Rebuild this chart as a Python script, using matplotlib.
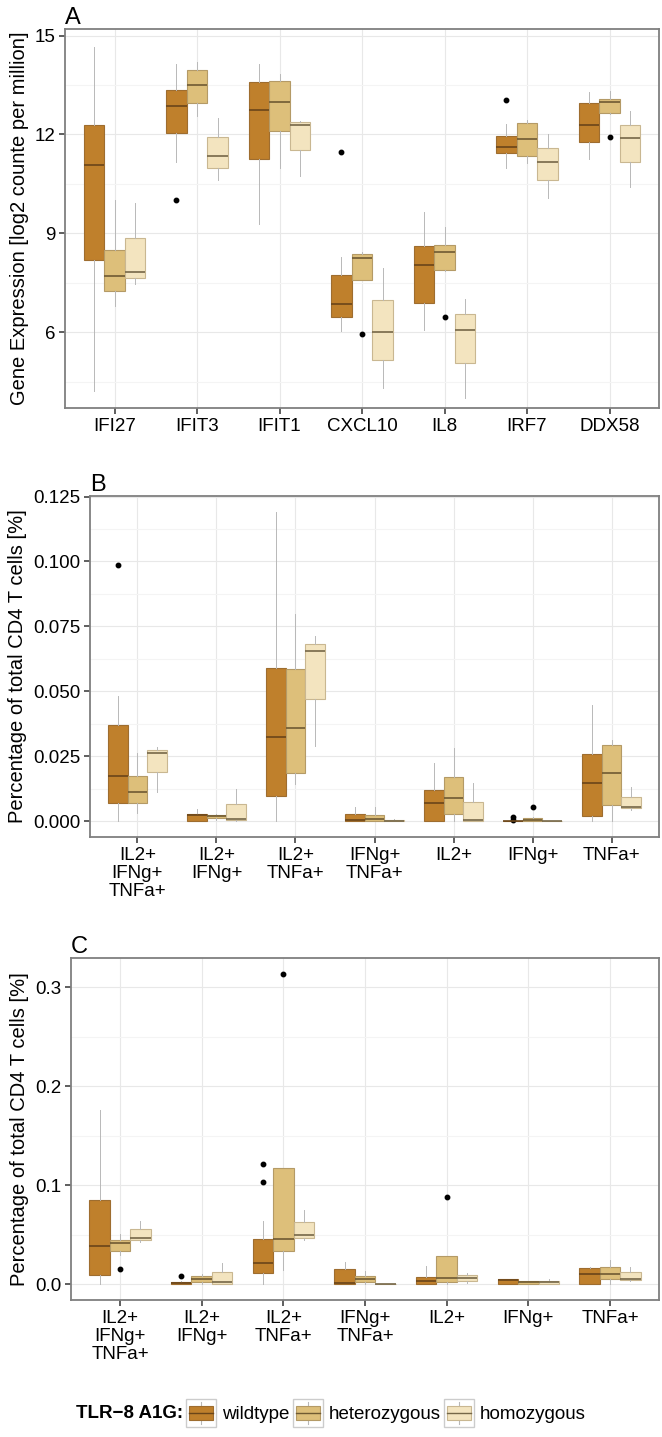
import numpy as np
import matplotlib
matplotlib.use("Agg")
import matplotlib.pyplot as plt
from matplotlib.patches import Rectangle
from matplotlib.lines import Line2D
from matplotlib.legend_handler import HandlerBase
from matplotlib.ticker import MultipleLocator, FormatStrFormatter

plt.rcParams["font.family"] = ["Liberation Sans", "DejaVu Sans"]

GENOTYPES = ["wildtype", "heterozygous", "homozygous"]
FILL = ["#BF802C", "#DDBF7A", "#F3E4BF"]
EDGE = ["#9E6D2F", "#B49A66", "#C9B791"]
MEDIAN = ["#6A4519", "#6F5A32", "#756748"]
WHISKER = "#B8B8B8"

# ---- panel A: gene expression, rows are [whislo, q1, median, q3, whishi]
GENES = ["IFI27", "IFIT3", "IFIT1", "CXCL10", "IL8", "IRF7", "DDX58"]
A_WT = [[4.22, 8.18, 11.06, 12.29, 14.66],
        [11.16, 12.05, 12.86, 13.34, 14.13],
        [9.29, 11.27, 12.74, 13.59, 14.15],
        [6.03, 6.46, 6.85, 7.73, 8.27],
        [6.06, 6.88, 8.03, 8.62, 9.65],
        [10.99, 11.45, 11.63, 11.96, 12.31],
        [11.27, 11.78, 12.28, 12.95, 13.29]]
A_HET = [[6.78, 7.26, 7.70, 8.50, 10.01],
         [12.57, 12.96, 13.49, 13.95, 14.19],
         [10.99, 12.10, 13.00, 13.61, 13.82],
         [7.58, 7.58, 8.24, 8.37, 8.42],
         [7.85, 7.90, 8.43, 8.64, 9.19],
         [11.14, 11.36, 11.87, 12.34, 12.45],
         [12.62, 12.66, 12.98, 13.09, 13.31]]
A_HOM = [[7.47, 7.63, 7.82, 8.86, 9.91],
         [10.62, 10.99, 11.36, 11.93, 12.49],
         [10.75, 11.53, 12.30, 12.37, 12.42],
         [4.30, 5.16, 6.02, 6.98, 7.94],
         [4.01, 5.06, 6.08, 6.54, 7.02],
         [10.08, 10.62, 11.16, 11.59, 12.02],
         [10.42, 11.16, 11.89, 12.29, 12.71]]
A_WT_OUT = [[], [10.02], [], [11.48], [], [13.06], []]
A_HET_OUT = [[], [], [], [5.96], [6.45], [], [11.91]]
A_HOM_OUT = [[], [], [], [], [], [], []]

# ---- panel B: cytokine producing CD4 T cells
CELLS = ["IL2+\nIFNg+\nTNFa+", "IL2+\nIFNg+", "IL2+\nTNFa+", "IFNg+\nTNFa+",
         "IL2+", "IFNg+", "TNFa+"]
B_WT = [[0.0, 0.0071, 0.0173, 0.0371, 0.0484],
        [0.0, 0.0, 0.0024, 0.0030, 0.0049],
        [0.0, 0.0096, 0.0324, 0.0592, 0.1192],
        [0.0, 0.0, 0.0006, 0.0027, 0.0055],
        [0.0, 0.0, 0.0069, 0.0122, 0.0225],
        [0.0, 0.0, 0.0001, 0.0002, 0.0003],
        [0.0, 0.0022, 0.0146, 0.0259, 0.0448]]
B_HET = [[0.0032, 0.0069, 0.0112, 0.0173, 0.0264],
         [0.0005, 0.0012, 0.0020, 0.0025, 0.0030],
         [0.0142, 0.0186, 0.0359, 0.0585, 0.0798],
         [0.0, 0.0001, 0.0010, 0.0023, 0.0057],
         [0.0, 0.0029, 0.0091, 0.0170, 0.0283],
         [0.0, 0.0, 0.0006, 0.0015, 0.0017],
         [0.0, 0.0065, 0.0187, 0.0295, 0.0314]]
B_HOM = [[0.0113, 0.0189, 0.0264, 0.0276, 0.0286],
         [0.0, 0.0004, 0.0009, 0.0066, 0.0123],
         [0.0290, 0.0471, 0.0656, 0.0683, 0.0712],
         [0.0, 0.0, 0.0003, 0.0006, 0.0010],
         [0.0, 0.0, 0.0005, 0.0076, 0.0146],
         [0.0, 0.0, 0.0001, 0.0002, 0.0003],
         [0.0042, 0.0051, 0.0055, 0.0094, 0.0132]]
B_WT_OUT = [[0.0985], [], [], [], [], [0.0018, 0.0006], []]
B_HET_OUT = [[], [], [], [], [], [0.0057], []]
B_HOM_OUT = [[], [], [], [], [], [], []]

# ---- panel C
C_WT = [[0.0, 0.0099, 0.0392, 0.0855, 0.1763],
        [0.0, 0.0, 0.0010, 0.0027, 0.0030],
        [0.0, 0.0116, 0.0217, 0.0462, 0.0640],
        [0.0, 0.0, 0.0010, 0.0152, 0.0222],
        [0.0, 0.0, 0.0034, 0.0077, 0.0189],
        [0.0, 0.0, 0.0044, 0.0051, 0.0051],
        [0.0, 0.0007, 0.0101, 0.0162, 0.0172]]
C_HET = [[0.0300, 0.0338, 0.0418, 0.0452, 0.0513],
         [0.0, 0.0020, 0.0054, 0.0084, 0.0110],
         [0.0143, 0.0341, 0.0462, 0.1175, 0.1180],
         [0.0, 0.0027, 0.0051, 0.0084, 0.0138],
         [0.0, 0.0027, 0.0061, 0.0286, 0.0290],
         [0.0, 0.0007, 0.0027, 0.0030, 0.0036],
         [0.0, 0.0051, 0.0104, 0.0172, 0.0246]]
C_HOM = [[0.0430, 0.0449, 0.0472, 0.0560, 0.0640],
         [0.0, 0.0007, 0.0020, 0.0121, 0.0212],
         [0.0445, 0.0469, 0.0503, 0.0634, 0.0755],
         [0.0, 0.0, 0.0002, 0.0004, 0.0008],
         [0.0010, 0.0034, 0.0061, 0.0091, 0.0118],
         [0.0, 0.0007, 0.0020, 0.0030, 0.0060],
         [0.0034, 0.0044, 0.0057, 0.0121, 0.0178]]
C_WT_OUT = [[], [0.0090], [0.1037, 0.1215], [], [], [], []]
C_HET_OUT = [[0.0160], [], [0.314], [], [0.0882], [], []]
C_HOM_OUT = [[], [], [], [], [], [], []]


class BoxKey:
    def __init__(self, i):
        self.i = i


class BoxKeyHandler(HandlerBase):
    def create_artists(self, legend, handle, xd, yd, w, h, fontsize, trans):
        i = handle.i
        x0, y0 = -xd, -yd
        frame = Rectangle((x0, y0), w, h, facecolor="white", edgecolor="#CCCCCC",
                          lw=1.0, transform=trans)
        whisk = Line2D([x0 + w / 2] * 2, [y0 + 0.1 * h, y0 + 0.9 * h],
                       color=WHISKER, lw=0.8, transform=trans)
        box = Rectangle((x0 + 0.1 * w, y0 + 0.25 * h), 0.8 * w, 0.5 * h,
                        facecolor=FILL[i], edgecolor=EDGE[i], lw=0.8, transform=trans)
        med = Line2D([x0 + 0.1 * w, x0 + 0.9 * w], [y0 + h / 2] * 2,
                     color=MEDIAN[i], lw=1.0, transform=trans)
        return [frame, whisk, box, med]


def draw_panel(ax, labels, groups, outliers, ylim, yticks, fmt, minor, ylabel, letter):
    n = len(labels)
    for k in range(3):
        stats = [dict(whislo=s[0], q1=s[1], med=s[2], q3=s[3], whishi=s[4], fliers=o)
                 for s, o in zip(groups[k], outliers[k])]
        pos = np.arange(1, n + 1) + (k - 1) * 0.25
        ax.bxp(stats, positions=pos, widths=0.25, patch_artist=True,
               showcaps=False, manage_ticks=False,
               boxprops=dict(facecolor=FILL[k], edgecolor=EDGE[k], linewidth=0.8),
               medianprops=dict(color=MEDIAN[k], linewidth=1.2),
               whiskerprops=dict(color=WHISKER, linewidth=0.7),
               flierprops=dict(marker="o", markersize=3.2, markerfacecolor="black",
                               markeredgecolor="black"))
    ax.set_xlim(0.4, n + 0.6)
    ax.set_xticks(np.arange(1, n + 1))
    ax.set_xticklabels(labels, linespacing=1.1)
    ax.set_ylim(*ylim)
    ax.set_yticks(yticks)
    ax.yaxis.set_major_formatter(FormatStrFormatter(fmt))
    ax.yaxis.set_minor_locator(MultipleLocator(minor))
    ax.tick_params(axis="both", which="major", labelsize=13.5, length=4, width=1.1,
                   color="#333333", labelcolor="black", pad=3)
    ax.tick_params(axis="y", which="minor", length=0)
    ax.set_axisbelow(True)
    ax.grid(True, which="major", color="#E8E8E8", linewidth=0.8)
    ax.grid(True, which="minor", axis="y", color="#F4F4F4", linewidth=0.8)
    for sp in ax.spines.values():
        sp.set_color("#7F7F7F")
        sp.set_linewidth(1.3)
    ax.set_ylabel(ylabel, fontsize=14.5, labelpad=4)
    ax.set_title(letter, loc="left", fontsize=17, pad=2)


W, H = 662, 1437
fig = plt.figure(figsize=(W / 100, H / 100), dpi=100)


def px_axes(left, top, right, bottom):
    return fig.add_axes([left / W, 1 - bottom / H, (right - left) / W, (bottom - top) / H])


axA = px_axes(65, 29, 659, 408)
draw_panel(axA, GENES, [A_WT, A_HET, A_HOM], [A_WT_OUT, A_HET_OUT, A_HOM_OUT],
           (3.7, 15.2), [6, 9, 12, 15], "%d", 1.5,
           "Gene Expression [log2 counte per million]", "A")

axB = px_axes(90, 496, 659, 837)
draw_panel(axB, CELLS, [B_WT, B_HET, B_HOM], [B_WT_OUT, B_HET_OUT, B_HOM_OUT],
           (-0.006, 0.1252), [0, 0.025, 0.05, 0.075, 0.1, 0.125], "%.3f", 0.0125,
           "Percentage of total CD4 T cells [%]", "B")

axC = px_axes(71, 958, 659, 1300)
draw_panel(axC, CELLS, [C_WT, C_HET, C_HOM], [C_WT_OUT, C_HET_OUT, C_HOM_OUT],
           (-0.0157, 0.3297), [0, 0.1, 0.2, 0.3], "%.1f", 0.05,
           "Percentage of total CD4 T cells [%]", "C")

# legend row: bold title followed by the three keys, centred as one group
ly = 1 - 1413 / H
keys = [BoxKey(i) for i in range(3)]
leg = fig.legend(keys, GENOTYPES, handler_map={BoxKey: BoxKeyHandler()},
                 loc="center left", bbox_to_anchor=(0.3, ly), ncol=3,
                 frameon=False, fontsize=13.5, handlelength=1.6, handleheight=1.9,
                 handletextpad=0.3, columnspacing=0.2, borderpad=0, borderaxespad=0)
title = fig.text(0.0, ly, "TLR\u22128 A1G:", ha="left", va="center",
                 fontsize=13.5, fontweight="bold")
fig.canvas.draw()
r = fig.canvas.get_renderer()
tw = title.get_window_extent(r).width
lw = leg.get_window_extent(r).width
gap = 3
start = (W - (tw + gap + lw)) / 2
title.set_x(start / W)
leg.set_bbox_to_anchor((( start + tw + gap) / W, ly), transform=fig.transFigure)

fig.savefig("out.png", dpi=100)
